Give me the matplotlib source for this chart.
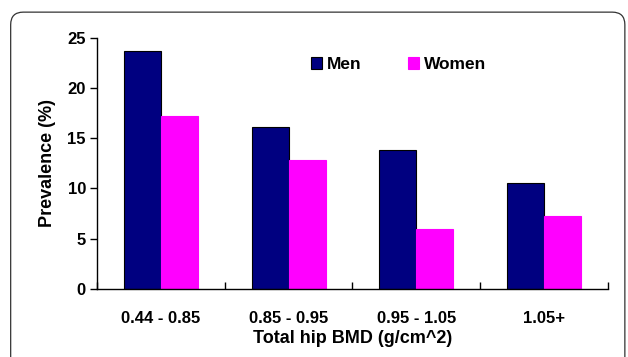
import numpy as np
import matplotlib.pyplot as plt
from matplotlib.patches import FancyBboxPatch

plt.rcParams['font.family'] = ['Liberation Sans', 'DejaVu Sans']
plt.rcParams['font.weight'] = 'bold'

categories = ['0.44 - 0.85', '0.85 - 0.95', '0.95 - 1.05', '1.05+']
men = [23.7, 16.1, 13.8, 10.5]
women = [17.2, 12.8, 6.0, 7.3]

fig = plt.figure(figsize=(6.28, 3.57), dpi=100)
ax = fig.add_axes([0.1545, 0.1905, 0.8135, 0.704])

# rounded outer frame
frame = FancyBboxPatch((0.017, -0.1), 0.978, 1.066, boxstyle="round,pad=0,rounding_size=0.02",
                       transform=fig.transFigure, fill=False, edgecolor='#333333', linewidth=0.9,
                       clip_on=False, mutation_aspect=1.76)
fig.patches.append(frame)

x = np.arange(len(categories))
w = 0.29
ax.bar(x - w / 2, men, w, color='#000080', edgecolor='black', linewidth=0.8, label='Men')
ax.bar(x + w / 2, women, w, color='#FF00FF', edgecolor='#FF00FF', linewidth=0.8, label='Women')

ax.set_xlim(-0.5, len(categories) - 0.5)
ax.set_ylim(0, 25)
ax.set_yticks(np.arange(0, 26, 5))
ax.set_xticks(np.arange(-0.5, len(categories), 1.0), minor=False)
ax.set_xticklabels([])
ax.set_xticks(x, minor=True)
ax.set_xticklabels(categories, minor=True)
ax.tick_params(axis='x', which='minor', length=0, pad=16, labelsize=12)
ax.tick_params(axis='x', which='major', length=5, direction='in', width=1)
ax.tick_params(axis='y', length=5, direction='out', width=1, labelsize=12, pad=3)
for s in ['top', 'right']:
    ax.spines[s].set_visible(False)
for s in ['left', 'bottom']:
    ax.spines[s].set_linewidth(1)

ax.set_ylabel('Prevalence (%)', fontsize=13, fontweight='bold', labelpad=8)
ax.set_xlabel('Total hip BMD (g/cm^2)', fontsize=13, fontweight='bold', labelpad=3)

ax.legend(loc='upper left', bbox_to_anchor=(0.388, 0.985), ncol=2, frameon=False,
          fontsize=12.5, handlelength=0.65, handleheight=0.65, handletextpad=0.25,
          columnspacing=2.7)

fig.savefig('out.png', dpi=100)
